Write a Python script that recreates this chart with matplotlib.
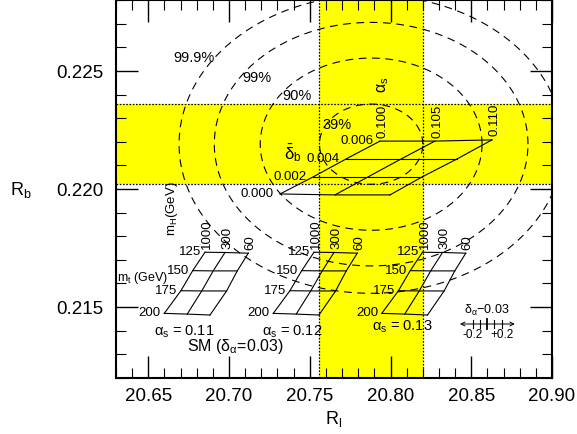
import numpy as np
import matplotlib
matplotlib.use('Agg')
import matplotlib.pyplot as plt
from matplotlib.ticker import MultipleLocator, FormatStrFormatter

plt.rcParams['font.family'] = ['Liberation Sans', 'DejaVu Sans']
plt.rcParams['mathtext.fontset'] = 'custom'
plt.rcParams['mathtext.rm'] = 'Liberation Sans'
plt.rcParams['mathtext.it'] = 'Liberation Sans:italic'
plt.rcParams['mathtext.bf'] = 'Liberation Sans:bold'
plt.rcParams['mathtext.sf'] = 'Liberation Sans'

# ---------------- data ----------------
rl_meas, rl_err = 20.788, 0.032
rb_meas, rb_err = 0.2219, 0.0017

cl_labels = ['39%', '90%', '99%', '99.9%']
cl_nsigma = [1.0, 2.146, 3.035, 3.717]
cl_label_rl = [20.7667, 20.7419, 20.7173, 20.6782]
cl_label_rb = [0.22271, 0.22394, 0.22470, 0.22554]

# main grid: rows = delta_b, columns = alpha_s
main_alphas = ['0.100', '0.105', '0.110']
main_deltab = ['0.000', '0.002', '0.004', '0.006']
main_rl = np.array([[20.7316, 20.7656, 20.7997],
                    [20.7520, 20.7860, 20.8195],
                    [20.7724, 20.8065, 20.8411],
                    [20.7935, 20.8275, 20.8628]])
main_rb = np.array([[0.21979, 0.21975, 0.21975],
                    [0.22051, 0.22051, 0.22051],
                    [0.22127, 0.22127, 0.22127],
                    [0.22203, 0.22203, 0.22208]])

# SM grids: rows = m_t, columns = m_H
sm_mt = ['125', '150', '175', '200']
sm_mh = ['1000', '300', '60']
sm_alphas = ['0.11', '0.12', '0.13']
sm_rl_011 = np.array([[20.6851, 20.6975, 20.7119],
                      [20.6775, 20.6902, 20.7051],
                      [20.6702, 20.6831, 20.6985],
                      [20.6599, 20.6741, 20.6882]])
sm_rl_012 = np.array([[20.7526, 20.7650, 20.7794],
                      [20.7450, 20.7577, 20.7726],
                      [20.7377, 20.7506, 20.7660],
                      [20.7274, 20.7416, 20.7557]])
sm_rl_013 = np.array([[20.8198, 20.8322, 20.8466],
                      [20.8122, 20.8249, 20.8398],
                      [20.8049, 20.8178, 20.8332],
                      [20.7946, 20.8088, 20.8229]])
sm_rb = np.array([[0.21732, 0.21731, 0.21728],
                  [0.21654, 0.21653, 0.21653],
                  [0.21569, 0.21568, 0.21568],
                  [0.21473, 0.21470, 0.21466]])
sm_label_rl = [20.6721, 20.7393, 20.8071]
sm_label_rb = [0.21395, 0.21395, 0.21417]

# delta_alpha scale
dalpha_ticks = [-0.2, -0.1, 0.0, 0.1, 0.2]
dalpha_center_rl = 20.8599
dalpha_rl_per_tenth = 0.00449
dalpha_rb = 0.21428

# ---------------- figure ----------------
W, H = 577, 434
fig = plt.figure(figsize=(W / 100, H / 100), dpi=100)
ax = fig.add_axes([116 / W, 1 - 377.8 / H, (552 - 116) / W, 377.6 / H])
ax.set_xlim(20.63, 20.90)
ax.set_ylim(0.212, 0.228)

yellow = '#ffff00'
ax.axvspan(rl_meas - rl_err, rl_meas + rl_err, color=yellow, lw=0, zorder=0)
ax.axhspan(rb_meas - rb_err, rb_meas + rb_err, color=yellow, lw=0, zorder=0)
dot = (0, (1.3, 1.3))
for v in (rl_meas - rl_err, rl_meas + rl_err):
    ax.axvline(v, color='k', ls=dot, lw=0.9, zorder=1)
for v in (rb_meas - rb_err, rb_meas + rb_err):
    ax.axhline(v, color='k', ls=dot, lw=0.9, zorder=1)

theta = np.linspace(0, 2 * np.pi, 721)
for k in cl_nsigma:
    ax.plot(rl_meas + k * rl_err * np.cos(theta), rb_meas + k * rb_err * np.sin(theta),
            color='k', lw=0.8, ls=(0, (7, 5)), zorder=2)
for lab, x, y in zip(cl_labels, cl_label_rl, cl_label_rb):
    ax.text(x, y, lab, fontsize=10.5, ha='center', va='center', zorder=4)


def draw_grid(rl, rb):
    for i in range(rl.shape[0]):
        ax.plot(rl[i, :], rb[i, :], color='k', lw=0.8, zorder=3)
    for j in range(rl.shape[1]):
        ax.plot(rl[:, j], rb[:, j], color='k', lw=0.8, zorder=3)


# main grid
draw_grid(main_rl, main_rb)
for i, lab in enumerate(main_deltab):
    ax.annotate(lab, (main_rl[i, 0], main_rb[i, 0]), xytext=(-4.5, 0),
                textcoords='offset points', ha='right', va='center',
                fontsize=9.5, zorder=4)
for j, lab in enumerate(main_alphas):
    ax.annotate(lab, (main_rl[3, j], main_rb[3, j]), xytext=(1.5, 2.5),
                textcoords='offset points', ha='center', va='bottom',
                rotation=90, fontsize=9.5, zorder=4)
ax.text(20.7953, 0.22441, r'$\mathrm{\alpha}_{\mathrm{s}}$', rotation=90,
        ha='center', va='center', fontsize=11.5, zorder=4)
ax.text(20.7396, 0.22153, r'$\bar{\mathrm{\delta}}_{\mathrm{b}}$',
        ha='center', va='center', fontsize=12, zorder=4)

# SM grids
for rl, xa, ya, a in zip([sm_rl_011, sm_rl_012, sm_rl_013], sm_label_rl, sm_label_rb, sm_alphas):
    draw_grid(rl, sm_rb)
    for i, lab in enumerate(sm_mt):
        ax.annotate(lab, (rl[i, 0], sm_rb[i, 0]), xytext=(-2.5, 0),
                    textcoords='offset points', ha='right', va='center',
                    fontsize=9.5, zorder=4)
    for j, lab in enumerate(sm_mh):
        ax.annotate(lab, (rl[0, j], sm_rb[0, j]), xytext=(1.5, 2.5),
                    textcoords='offset points', ha='center', va='bottom',
                    rotation=90, fontsize=9.5, zorder=4)
    ax.text(xa, ya, r'$\mathrm{\alpha}_{\mathrm{s}}$' + ' = ' + a,
            ha='center', va='center', fontsize=10.5, zorder=4)

ax.text(20.7037, 0.21332, r'SM ($\mathrm{\delta}_{\mathrm{\alpha}}$=0.03)',
        ha='center', va='center', fontsize=11.5, zorder=4)
ax.text(20.6306, 0.21625, r'm$_{\mathrm{t}}$ (GeV)', ha='left', va='center',
        fontsize=9, zorder=4)
ax.text(20.6647, 0.21915, r'm$_{\mathrm{H}}$(GeV)', ha='center', va='center',
        rotation=90, fontsize=9.5, zorder=4)

# delta_alpha scale
tick_x = [dalpha_center_rl + t / 0.1 * dalpha_rl_per_tenth for t in dalpha_ticks]
ax.annotate('', xy=(20.8770, dalpha_rb), xytext=(20.8430, dalpha_rb),
            arrowprops=dict(arrowstyle='<->', lw=0.7, mutation_scale=7, color='k',
                            shrinkA=0, shrinkB=0), zorder=4)
for t, x in zip(dalpha_ticks, tick_x):
    h = 0.00020 if t == 0 else 0.00016
    ax.plot([x, x], [dalpha_rb - h, dalpha_rb + h], color='k',
            lw=1.3 if t == 0 else 0.8, zorder=4)
ax.text(dalpha_center_rl, 0.21487, r'$\mathrm{\delta}_{\mathrm{\alpha}}$' + '\u22120.03',
        ha='center', va='center', fontsize=9, zorder=4)
ax.text(tick_x[0], 0.21381, '-0.2', ha='center', va='center', fontsize=8.5, zorder=4)
ax.text(tick_x[-1], 0.21381, '+0.2', ha='center', va='center', fontsize=8.5, zorder=4)

# axes styling
ax.xaxis.set_major_locator(MultipleLocator(0.05))
ax.xaxis.set_minor_locator(MultipleLocator(0.01))
ax.yaxis.set_major_locator(MultipleLocator(0.005))
ax.yaxis.set_minor_locator(MultipleLocator(0.001))
ax.xaxis.set_major_formatter(FormatStrFormatter('%.2f'))
ax.yaxis.set_major_formatter(FormatStrFormatter('%.3f'))
ax.tick_params(which='both', direction='in', top=True, right=True)
ax.tick_params(which='major', length=15.8, width=1.0, labelsize=13.5)
ax.tick_params(which='minor', length=7.2, width=0.8)
ax.tick_params(axis='x', which='major', pad=7)
ax.tick_params(axis='y', which='major', pad=9)
for s in ax.spines.values():
    s.set_linewidth(1.5)

fig.text(21 / W, 1 - 190 / H, r'R$_{\mathrm{b}}$', ha='center', va='center', fontsize=13)
fig.text(333.5 / W, 1 - 419 / H, r'R$_{\mathrm{l}}$', ha='center', va='center', fontsize=13)

fig.savefig('out.png', dpi=100)
